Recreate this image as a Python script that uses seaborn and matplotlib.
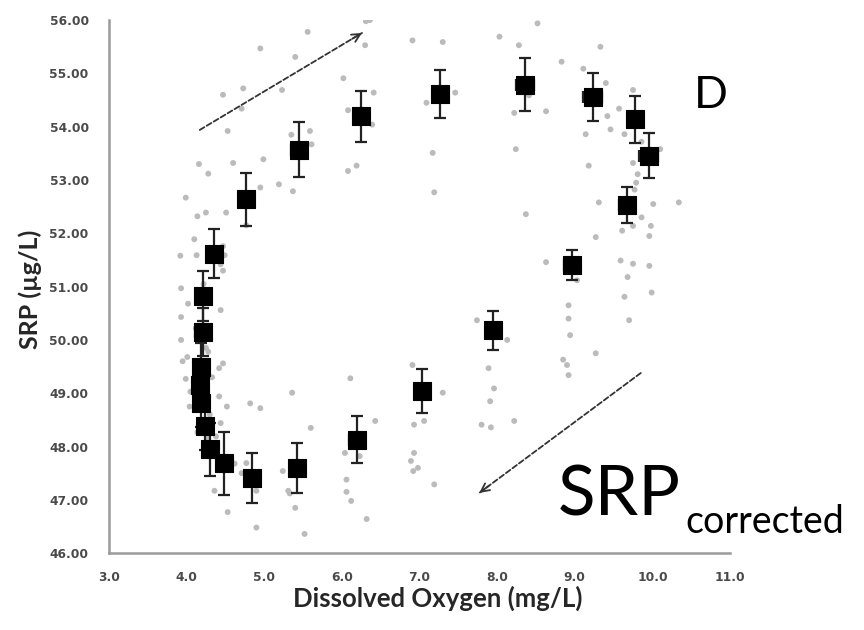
import matplotlib
matplotlib.use("Agg")
import matplotlib.pyplot as plt
import seaborn as sns
import pandas as pd
from matplotlib.ticker import MultipleLocator, FormatStrFormatter

# ---- hourly means (black squares) ----
mean_do = [4.21, 4.36, 4.77, 5.45, 6.25, 7.26, 8.36, 9.23, 9.78, 9.95, 9.67, 8.96,
           7.95, 7.03, 6.19, 5.42, 4.84, 4.48, 4.30, 4.24, 4.19, 4.17, 4.19, 4.21]
mean_srp = [50.82, 51.62, 52.64, 53.57, 54.20, 54.61, 54.79, 54.56, 54.14, 53.46, 52.53, 51.40,
            50.18, 49.04, 48.13, 47.60, 47.41, 47.69, 47.95, 48.38, 48.81, 49.15, 49.50, 50.15]
srp_err = [0.47, 0.46, 0.50, 0.51, 0.48, 0.45, 0.50, 0.45, 0.44, 0.42, 0.34, 0.28,
           0.36, 0.42, 0.44, 0.47, 0.46, 0.59, 0.50, 0.45, 0.45, 0.45, 0.45, 0.45]
do_err = [0.08, 0.10, 0.10, 0.10, 0.08, 0.06, 0.12, 0.12, 0.10, 0.12, 0.10, 0.10,
          0.06, 0.08, 0.10, 0.06, 0.05, 0.05, 0.05, 0.05, 0.05, 0.08, 0.10, 0.10]

# ---- individual observations (grey dots) ----
raw_do = [5.56, 4.95, 5.40, 6.02, 4.47, 4.73, 5.23, 4.71, 6.08, 4.53, 5.35, 5.59, 5.61,
          4.16, 4.28, 4.60, 4.99, 6.08, 6.19, 3.99, 4.95, 5.19, 5.37, 4.14, 4.25, 4.51,
          4.77, 4.10, 3.92, 4.13, 4.47, 4.49, 4.44, 4.47, 6.31, 6.36, 6.30, 6.91, 7.30,
          8.03, 8.28, 8.52, 9.33, 8.83, 9.11, 9.40, 9.75, 9.57, 9.42, 9.46, 9.14, 9.64,
          9.86, 10.10, 9.75, 9.81, 9.79, 9.77, 9.18, 9.31, 10.01, 10.34, 9.86, 9.75, 9.98,
          9.61, 9.96, 9.27, 8.63, 9.03, 9.59, 9.75, 9.96, 9.68, 9.64, 9.99, 8.92, 8.92,
          9.70, 8.94, 9.27, 8.85, 8.90, 8.92, 8.63, 8.41, 8.22, 8.24, 8.37, 7.46, 7.09,
          7.17, 7.19, 6.41, 6.39, 7.74, 8.13, 7.89, 7.96, 7.91, 7.80, 7.92, 8.22, 6.91,
          7.30, 6.93, 7.06, 6.93, 6.89, 6.98, 6.92, 7.19, 6.43, 6.23, 6.32, 6.11, 6.04,
          6.06, 6.06, 6.12, 5.36, 5.60, 5.24, 5.31, 5.33, 5.40, 5.52, 4.82, 4.95, 4.90,
          4.90, 4.71, 4.62, 4.77, 4.36, 4.53, 4.38, 4.44, 4.52, 4.42, 4.47, 4.42, 4.44,
          4.14, 4.04, 4.05, 3.99, 3.95, 4.01, 3.93, 3.93, 4.02, 3.93, 4.12, 4.28, 4.20,
          4.25, 4.28, 4.22, 4.33, 4.30]
raw_srp = [55.78, 55.47, 55.31, 54.91, 54.60, 54.72, 54.69, 54.34, 54.31, 53.92, 53.85,
           53.92, 53.67, 53.30, 53.12, 53.32, 53.39, 53.17, 53.27, 52.67, 52.86, 52.92,
           52.79, 52.32, 52.39, 52.39, 52.15, 51.89, 51.58, 51.59, 51.76, 51.59, 51.42,
           51.30, 55.98, 56.00, 55.53, 55.62, 55.59, 55.69, 55.53, 55.94, 55.50, 55.22,
           55.09, 54.82, 54.69, 54.34, 54.20, 53.95, 53.86, 53.86, 53.72, 53.58, 53.32,
           53.11, 52.95, 52.82, 53.27, 52.58, 52.55, 52.58, 52.30, 52.14, 52.14, 52.05,
           51.95, 51.93, 51.46, 51.12, 51.49, 51.43, 51.39, 51.18, 50.81, 50.89, 50.65,
           50.40, 50.37, 50.09, 49.75, 49.63, 49.53, 49.34, 54.29, 54.59, 54.26, 53.58,
           52.36, 54.64, 54.45, 53.51, 52.77, 54.64, 54.04, 50.37, 50.00, 49.47, 49.09,
           48.85, 48.41, 48.36, 48.48, 49.53, 49.01, 48.41, 48.48, 47.88, 47.73, 47.60,
           47.54, 47.29, 48.48, 47.82, 46.64, 49.28, 47.88, 47.38, 47.15, 46.98, 49.01,
           48.35, 47.54, 47.17, 47.12, 46.85, 46.36, 48.81, 48.72, 47.17, 46.48, 47.50,
           47.68, 47.69, 47.17, 46.77, 48.19, 48.44, 48.75, 48.94, 49.56, 49.47, 50.56,
           48.27, 48.75, 49.03, 49.27, 49.60, 49.68, 50.00, 50.43, 50.68, 50.97, 50.22,
           49.78, 50.95, 49.85, 48.15, 51.05, 49.30, 48.60]

x_ticks = [3.0, 4.0, 5.0, 6.0, 7.0, 8.0, 9.0, 10.0, 11.0]
y_ticks = [46.0, 47.0, 48.0, 49.0, 50.0, 51.0, 52.0, 53.0, 54.0, 55.0, 56.0]

raw = pd.DataFrame({"DO": raw_do, "SRP": raw_srp})
means = pd.DataFrame({"DO": mean_do, "SRP": mean_srp, "xe": do_err, "ye": srp_err})

sns.set_style("white")
plt.rcParams["font.family"] = ["Lato", "DejaVu Sans"]

fig = plt.figure(figsize=(8.64, 6.30), dpi=100)
ax = fig.add_axes([0.126, 0.122, 0.719, 0.846])

sns.scatterplot(data=raw, x="DO", y="SRP", ax=ax, color="#bbbbbb", s=18,
                edgecolor="none", zorder=2, legend=False)
ax.errorbar(means["DO"], means["SRP"], xerr=means["xe"], yerr=means["ye"],
            fmt="none", ecolor="#222222", elinewidth=1.6, capsize=4, capthick=1.6, zorder=3)
sns.scatterplot(data=means, x="DO", y="SRP", ax=ax, marker="s", color="black", s=150,
                edgecolor="black", linewidth=0.8, zorder=4, legend=False)

ax.set_xlim(x_ticks[0], x_ticks[-1])
ax.set_ylim(y_ticks[0], y_ticks[-1])
ax.set_xticks(x_ticks)
ax.set_yticks(y_ticks)
ax.xaxis.set_major_formatter(FormatStrFormatter("%.1f"))
ax.yaxis.set_major_formatter(FormatStrFormatter("%.2f"))
ax.xaxis.set_minor_locator(MultipleLocator(0.25))
ax.yaxis.set_minor_locator(MultipleLocator(0.2))

for side in ["top", "right"]:
    ax.spines[side].set_visible(False)
for side in ["left", "bottom"]:
    ax.spines[side].set_color("#9a9a9a")
    ax.spines[side].set_linewidth(1.8)

ax.tick_params(which="major", direction="inout", length=9, width=1.5, color="#9a9a9a",
               labelsize=8.8, labelcolor="#4a4a4a")
ax.tick_params(axis="x", which="major", pad=8)
ax.tick_params(axis="y", which="major", pad=10)
ax.tick_params(which="minor", direction="in", length=4, width=1.2, color="#9a9a9a")
for lab in ax.get_xticklabels() + ax.get_yticklabels():
    lab.set_fontweight("bold")
    lab.set_family(["DejaVu Sans"])

ax.set_xlabel("")
ax.set_ylabel("")
fig.text(0.507, 0.051, "Dissolved Oxygen (mg/L)", fontsize=18.5, fontweight="bold",
         color="#262626", ha="center", va="center")
fig.text(0.035, 0.54, "SRP (µg/L)", fontsize=18, fontweight="bold", color="#262626",
         ha="center", va="center", rotation=90)

# trend arrows (dashed shaft, solid open head)
arrow_specs = [((4.17, 53.94), (6.26, 55.76)), ((9.85, 49.38), (7.77, 47.13))]
for (x0, y0), (x1, y1) in arrow_specs:
    ax.annotate("", xy=(x1, y1), xytext=(x0, y0),
                arrowprops=dict(arrowstyle="-", linestyle=(0, (3, 1.5)), lw=1.3,
                                color="#333333", shrinkA=0, shrinkB=0), zorder=5)
    fx = x1 - (x1 - x0) * 0.06
    fy = y1 - (y1 - y0) * 0.06
    ax.annotate("", xy=(x1, y1), xytext=(fx, fy),
                arrowprops=dict(arrowstyle="->,head_length=0.6,head_width=0.3", lw=1.3,
                                color="#333333", shrinkA=0, shrinkB=0), zorder=5)

fig.text(0.803, 0.829, "D", fontsize=32, color="black", ha="left", va="baseline")
fig.text(0.645, 0.1825, "SRP", fontsize=50, color="black", ha="left", va="baseline")
fig.text(0.793, 0.154, "corrected", fontsize=27, color="black", ha="left", va="baseline")

fig.savefig("out.png", dpi=100)
